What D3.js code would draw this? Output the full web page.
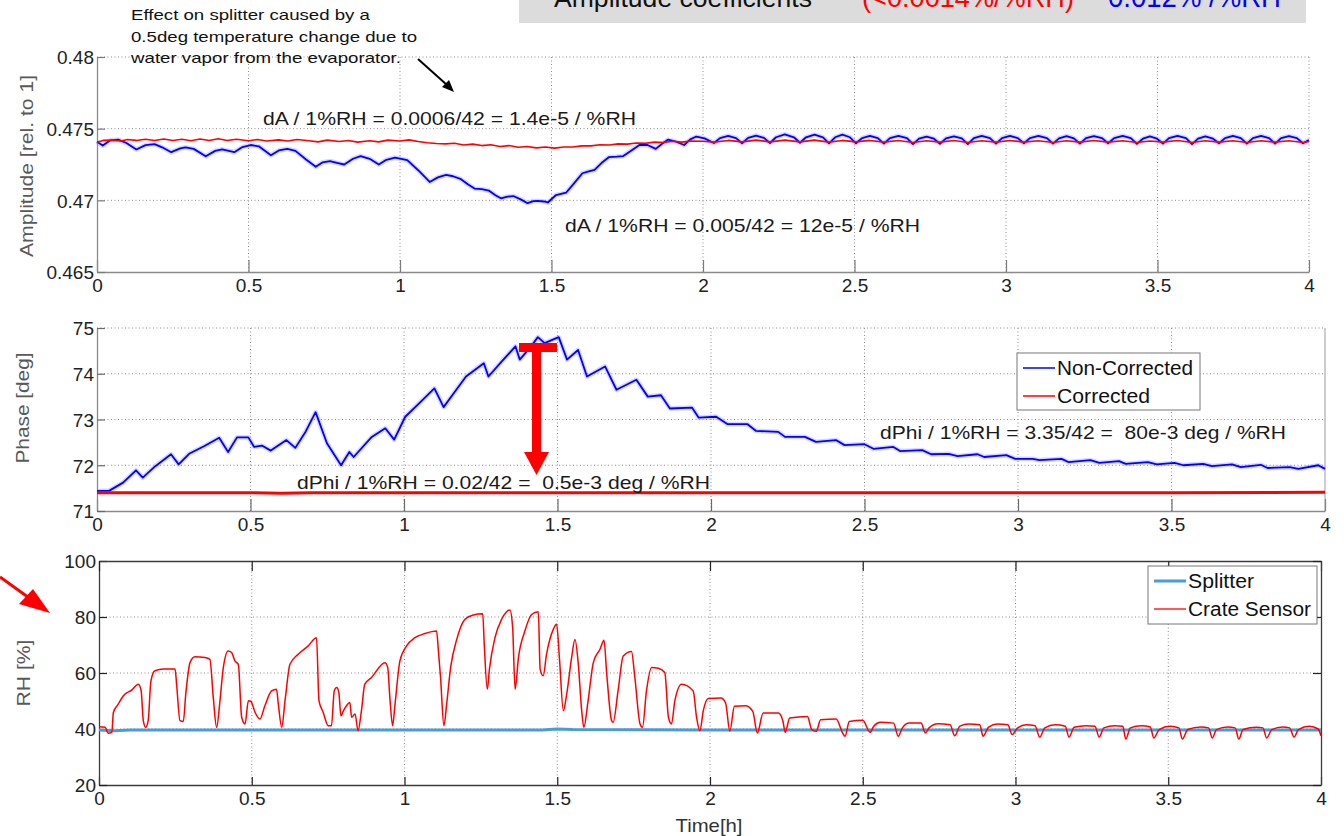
<!DOCTYPE html>
<html>
<head>
<meta charset="utf-8">
<script src="https://cdn.jsdelivr.net/npm/d3@7"></script>
<style>
    body { margin: 0; background: #fff; }
    svg text { font-family: "Liberation Sans", Arial, sans-serif; }
</style>
</head>
<body>
<svg id="chart" width="1344" height="836"></svg>
<script>
// ---- data (time in hours) ----
const timeTicks = [0, 0.5, 1, 1.5, 2, 2.5, 3, 3.5, 4];
const timeTickLabels = ['0', '0.5', '1', '1.5', '2', '2.5', '3', '3.5', '4'];
const ampTicks = [0.465, 0.47, 0.475, 0.48];
const ampTickLabels = ['0.465', '0.47', '0.475', '0.48'];
const phaseTicks = [71, 72, 73, 74, 75];
const phaseTickLabels = ['71', '72', '73', '74', '75'];
const rhTicks = [20, 40, 60, 80, 100];
const rhTickLabels = ['20', '40', '60', '80', '100'];

const ampNonCorrected = [
    [0, 0.47409], [0.019, 0.47382], [0.043, 0.47418], [0.07, 0.47423], [0.097, 0.4740], [0.13, 0.47355],
    [0.16, 0.47385], [0.19, 0.47392], [0.215, 0.4737], [0.245, 0.47336], [0.275, 0.47362], [0.292, 0.4737],
    [0.319, 0.47359], [0.359, 0.47307], [0.39, 0.47345], [0.413, 0.47355], [0.435, 0.47345], [0.453, 0.47336],
    [0.48, 0.47372], [0.507, 0.47386], [0.534, 0.47377], [0.574, 0.47314], [0.6, 0.47348], [0.628, 0.47359],
    [0.655, 0.47345], [0.69, 0.47285], [0.722, 0.47234], [0.745, 0.47265], [0.769, 0.47273], [0.795, 0.4726],
    [0.816, 0.4725], [0.845, 0.4729], [0.87, 0.47309], [0.9, 0.4729], [0.93, 0.4725], [0.955, 0.47283],
    [0.984, 0.47298], [1.024, 0.4728], [1.06, 0.4721], [1.098, 0.47128], [1.125, 0.4716], [1.152, 0.47177],
    [1.175, 0.47168], [1.199, 0.4715], [1.225, 0.4711], [1.246, 0.47082], [1.27, 0.47078], [1.293, 0.47068],
    [1.315, 0.47035], [1.333, 0.47014], [1.355, 0.47026], [1.374, 0.4703], [1.4, 0.47005], [1.421, 0.4698],
    [1.44, 0.46995], [1.454, 0.46996], [1.475, 0.46992], [1.488, 0.46985], [1.515, 0.47037], [1.548, 0.47053],
    [1.575, 0.4712], [1.602, 0.47189], [1.62, 0.472], [1.642, 0.47212], [1.665, 0.4726], [1.69, 0.47302],
    [1.715, 0.47305], [1.737, 0.47309], [1.765, 0.4735], [1.79, 0.47386], [1.817, 0.47386], [1.844, 0.47359],
    [1.865, 0.47395], [1.884, 0.47423], [1.911, 0.47409], [1.938, 0.47386], [1.958, 0.47425], [1.978, 0.47445],
    [2.005, 0.47432], [2.036, 0.474], [2.056, 0.47434], [2.083, 0.4745], [2.109, 0.47434], [2.129, 0.47398],
    [2.149, 0.47436], [2.175, 0.47452], [2.201, 0.47436], [2.221, 0.474], [2.241, 0.4744], [2.27, 0.4746],
    [2.3, 0.4744], [2.32, 0.47402], [2.34, 0.4744], [2.368, 0.47458], [2.396, 0.4744], [2.416, 0.47398],
    [2.436, 0.4744], [2.46, 0.47458], [2.485, 0.4744], [2.505, 0.47398], [2.525, 0.47434], [2.551, 0.4745],
    [2.577, 0.47434], [2.597, 0.47396], [2.617, 0.47434], [2.645, 0.4745], [2.673, 0.47434], [2.693, 0.47392],
    [2.713, 0.4743], [2.738, 0.47445], [2.762, 0.4743], [2.782, 0.47395], [2.802, 0.47432], [2.828, 0.47446],
    [2.854, 0.47432], [2.874, 0.47392], [2.894, 0.47434], [2.92, 0.4745], [2.947, 0.47434], [2.967, 0.47396],
    [2.987, 0.47434], [3.013, 0.4745], [3.039, 0.47434], [3.059, 0.47398], [3.079, 0.47434], [3.107, 0.4745],
    [3.135, 0.47434], [3.155, 0.47396], [3.175, 0.47432], [3.2, 0.47448], [3.224, 0.47432], [3.244, 0.47396],
    [3.264, 0.47434], [3.29, 0.47448], [3.317, 0.47434], [3.337, 0.47398], [3.357, 0.47434], [3.385, 0.4745],
    [3.412, 0.47434], [3.432, 0.47394], [3.452, 0.4743], [3.475, 0.47446], [3.498, 0.4743], [3.518, 0.47396],
    [3.538, 0.47434], [3.566, 0.4745], [3.594, 0.47434], [3.614, 0.47392], [3.634, 0.4743], [3.658, 0.47446],
    [3.683, 0.4743], [3.703, 0.47398], [3.723, 0.47434], [3.749, 0.4745], [3.775, 0.47434], [3.795, 0.47396],
    [3.815, 0.47434], [3.842, 0.4745], [3.868, 0.47434], [3.888, 0.47396], [3.908, 0.47434], [3.934, 0.47448],
    [3.96, 0.47434], [3.98, 0.47398], [4.0, 0.4742]
];

const ampCorrected = [
    [0, 0.47405], [0.02, 0.47418], [0.05, 0.4742], [0.08, 0.47414], [0.1, 0.47424], [0.13, 0.47418],
    [0.16, 0.47426], [0.19, 0.47418], [0.22, 0.47428], [0.25, 0.47418], [0.28, 0.47426], [0.31, 0.47416],
    [0.34, 0.47428], [0.37, 0.47418], [0.4, 0.4743], [0.43, 0.47418], [0.46, 0.47426], [0.5, 0.47416],
    [0.53, 0.47424], [0.56, 0.47414], [0.6, 0.47422], [0.63, 0.47414], [0.66, 0.47424], [0.7, 0.47416],
    [0.73, 0.47408], [0.76, 0.4742], [0.8, 0.4741], [0.83, 0.47418], [0.86, 0.47406], [0.9, 0.47416],
    [0.93, 0.47408], [0.96, 0.4742], [1.0, 0.47414], [1.03, 0.47422], [1.06, 0.4741], [1.09, 0.47402],
    [1.12, 0.47396], [1.15, 0.47394], [1.18, 0.47398], [1.21, 0.47386], [1.24, 0.47392], [1.27, 0.47382],
    [1.3, 0.47388], [1.33, 0.47376], [1.36, 0.47382], [1.39, 0.4737], [1.42, 0.47376], [1.45, 0.47366],
    [1.48, 0.47372], [1.51, 0.47364], [1.54, 0.47372], [1.57, 0.47372], [1.6, 0.4738], [1.63, 0.4738],
    [1.66, 0.47388], [1.69, 0.47386], [1.72, 0.47394], [1.75, 0.47392], [1.78, 0.474], [1.81, 0.47398],
    [1.84, 0.47406], [1.87, 0.47404], [1.9, 0.47412], [1.93, 0.47406], [1.96, 0.47414], [2.0, 0.47412],
    [2.036, 0.47406], [2.083, 0.47418], [2.129, 0.47408], [2.175, 0.4742], [2.221, 0.47408], [2.27, 0.4742],
    [2.32, 0.47408], [2.368, 0.4742], [2.416, 0.47406], [2.46, 0.47418], [2.505, 0.47408], [2.551, 0.47418],
    [2.597, 0.47406], [2.645, 0.47418], [2.693, 0.47404], [2.738, 0.47416], [2.782, 0.47406], [2.828, 0.47418],
    [2.874, 0.47404], [2.92, 0.47416], [2.967, 0.47406], [3.013, 0.47418], [3.059, 0.47406], [3.107, 0.47416],
    [3.155, 0.47404], [3.2, 0.47416], [3.244, 0.47406], [3.29, 0.47418], [3.337, 0.47406], [3.385, 0.47416],
    [3.432, 0.47404], [3.475, 0.47414], [3.518, 0.47406], [3.566, 0.47418], [3.614, 0.47404], [3.658, 0.47416],
    [3.703, 0.47406], [3.749, 0.47416], [3.795, 0.47404], [3.842, 0.47416], [3.888, 0.47406], [3.934, 0.47416],
    [3.98, 0.47404], [4.0, 0.4741]
];

const phaseNonCorrected = [
    [0, 71.44], [0.039, 71.44], [0.085, 71.62], [0.127, 71.89], [0.149, 71.73], [0.19, 71.98], [0.241, 72.24],
    [0.266, 72.02], [0.3, 72.25], [0.35, 72.42], [0.398, 72.6], [0.427, 72.29], [0.456, 72.61], [0.493, 72.61],
    [0.512, 72.4], [0.537, 72.43], [0.566, 72.32], [0.617, 72.55], [0.646, 72.38], [0.68, 72.74], [0.712, 73.16],
    [0.749, 72.48], [0.795, 72.0], [0.822, 72.29], [0.836, 72.18], [0.895, 72.62], [0.939, 72.81], [0.968, 72.56],
    [1.004, 73.06], [1.05, 73.36], [1.099, 73.68], [1.129, 73.27], [1.165, 73.6], [1.202, 73.94], [1.26, 74.23],
    [1.275, 73.94], [1.32, 74.28], [1.363, 74.6], [1.377, 74.31], [1.414, 74.6], [1.436, 74.8], [1.458, 74.67],
    [1.504, 74.8], [1.531, 74.31], [1.567, 74.52], [1.596, 73.94], [1.655, 74.16], [1.692, 73.65], [1.757, 73.87],
    [1.794, 73.5], [1.837, 73.53], [1.866, 73.24], [1.938, 73.26], [1.96, 73.04], [2.017, 73.06], [2.053, 72.9],
    [2.118, 72.9], [2.147, 72.75], [2.219, 72.73], [2.241, 72.62], [2.306, 72.62], [2.342, 72.51], [2.407, 72.55],
    [2.435, 72.44], [2.5, 72.46], [2.529, 72.36], [2.594, 72.4], [2.616, 72.31], [2.688, 72.33], [2.717, 72.24],
    [2.774, 72.25], [2.803, 72.2], [2.868, 72.24], [2.89, 72.18], [2.962, 72.22], [2.991, 72.14], [3.048, 72.14],
    [3.07, 72.11], [3.142, 72.14], [3.164, 72.07], [3.236, 72.11], [3.265, 72.05], [3.329, 72.09], [3.351, 72.03],
    [3.423, 72.07], [3.452, 72.02], [3.51, 72.05], [3.539, 72.0], [3.603, 72.03], [3.632, 71.98], [3.697, 72.02],
    [3.726, 71.96], [3.791, 72.01], [3.813, 71.94], [3.885, 71.96], [3.913, 71.92], [3.978, 72.0], [4.0, 71.92]
];

const phaseCorrected = [
    [0, 71.40], [0.5, 71.40], [0.6, 71.39], [0.7, 71.40], [1.5, 71.40], [2.5, 71.40], [3.5, 71.40], [4.0, 71.41]
];

const rhSplitter = [
    [0, 39.6], [0.05, 39.4], [0.1, 39.6], [1.45, 39.6], [1.5, 40.0], [1.55, 39.8], [2.0, 39.6], [4.0, 39.6]
];

const rhCrateSensor = [
    [0, 40.8], [0.02, 40.6], [0.03, 38.5], [0.042, 38.8], [0.047, 45.9], [0.063, 48.9], [0.08, 51.9], [0.107, 53.9],
    [0.129, 56.0], [0.138, 53.6], [0.145, 43.0], [0.153, 40.6], [0.161, 43.0], [0.17, 57.2], [0.183, 60.8],
    [0.211, 61.4], [0.249, 61.4], [0.254, 56.0], [0.265, 43.0], [0.276, 42.7], [0.284, 52.5], [0.298, 63.7],
    [0.314, 65.8], [0.347, 65.5], [0.363, 64.9], [0.374, 51.3], [0.385, 40.6], [0.396, 50.1], [0.407, 62.0],
    [0.423, 67.9], [0.434, 67.3], [0.445, 64.3], [0.456, 63.1], [0.467, 44.2], [0.478, 41.8], [0.489, 50.1],
    [0.497, 49.9], [0.511, 45.9], [0.527, 43.6], [0.543, 48.3], [0.565, 53.6], [0.581, 54.2], [0.587, 48.9],
    [0.598, 40.6], [0.609, 50.1], [0.625, 63.1], [0.652, 66.7], [0.685, 69.7], [0.712, 72.6], [0.72, 50.1],
    [0.734, 45.9], [0.75, 41.2], [0.761, 41.2], [0.77, 53.6], [0.778, 54.8], [0.785, 53.1], [0.792, 44.7],
    [0.8, 46.5], [0.81, 48.3], [0.821, 49.5], [0.827, 44.2], [0.838, 45.4], [0.848, 39.4], [0.859, 46.5],
    [0.87, 56.0], [0.892, 58.4], [0.936, 63.7], [0.945, 62.0], [0.952, 51.3], [0.961, 41.2], [0.969, 48.9],
    [0.985, 64.3], [1.007, 69.7], [1.034, 72.6], [1.067, 74.1], [1.105, 75.0], [1.111, 67.9], [1.118, 58.4],
    [1.129, 41.2], [1.138, 48.9], [1.151, 62.0], [1.171, 72.0], [1.198, 79.2], [1.225, 80.7], [1.256, 81.2],
    [1.261, 70.3], [1.271, 54.2], [1.278, 61.4], [1.296, 72.6], [1.318, 79.2], [1.345, 82.5], [1.354, 76.2],
    [1.362, 54.2], [1.373, 65.5], [1.394, 75.0], [1.416, 80.9], [1.438, 81.9], [1.444, 61.4], [1.454, 59.0],
    [1.465, 66.7], [1.487, 75.6], [1.498, 77.4], [1.507, 65.5], [1.52, 46.5], [1.531, 52.5], [1.547, 65.5],
    [1.558, 72.0], [1.569, 63.1], [1.58, 46.5], [1.587, 40.6], [1.601, 50.1], [1.618, 63.7], [1.64, 68.5],
    [1.653, 71.7], [1.662, 59.6], [1.678, 43.0], [1.683, 42.4], [1.699, 53.6], [1.716, 66.1], [1.743, 67.7],
    [1.754, 58.4], [1.771, 41.8], [1.779, 40.6], [1.792, 53.6], [1.809, 62.0], [1.831, 61.7], [1.852, 60.2],
    [1.864, 44.2], [1.874, 41.8], [1.885, 50.1], [1.907, 56.0], [1.945, 53.6], [1.956, 44.2], [1.967, 39.4],
    [1.978, 46.5], [1.994, 50.9], [2.036, 51.1], [2.051, 49.3], [2.065, 39.2], [2.08, 48.1], [2.116, 48.3],
    [2.14, 46.3], [2.155, 38.6], [2.174, 45.7], [2.224, 45.7], [2.239, 42.7], [2.246, 38.8], [2.261, 43.9],
    [2.319, 44.5], [2.333, 39.8], [2.348, 39.2], [2.362, 43.3], [2.413, 43.6], [2.434, 38.6], [2.442, 37.4],
    [2.456, 42.7], [2.5, 43.1], [2.524, 38.8], [2.536, 41], [2.558, 42.4], [2.601, 42.1], [2.616, 37.4],
    [2.63, 40.4], [2.652, 42.1], [2.691, 42.1], [2.705, 38.6], [2.717, 40.4], [2.746, 41.9], [2.786, 41.5],
    [2.801, 37.6], [2.818, 41], [2.847, 41.8], [2.883, 41.5], [2.894, 37.4], [2.912, 40.7], [2.941, 41.8],
    [2.975, 41.5], [2.989, 38], [3.007, 40.4], [3.036, 41.5], [3.064, 41.2], [3.079, 37.1], [3.096, 40.4],
    [3.13, 41.5], [3.163, 41], [3.175, 37.1], [3.192, 40.6], [3.231, 41.2], [3.26, 41], [3.274, 37.1],
    [3.289, 40.4], [3.325, 41.2], [3.351, 41], [3.361, 36.4], [3.376, 40.4], [3.412, 41.2], [3.441, 40.7],
    [3.453, 36.8], [3.47, 39.8], [3.506, 41], [3.535, 40.4], [3.546, 36.4], [3.564, 39.8], [3.607, 40.7],
    [3.632, 40.4], [3.644, 36.8], [3.658, 39.8], [3.694, 40.7], [3.719, 40.4], [3.731, 36.4], [3.745, 39.8],
    [3.789, 40.6], [3.81, 40.4], [3.822, 36.8], [3.839, 39.8], [3.875, 40.7], [3.897, 40.4], [3.912, 37.1],
    [3.926, 39.8], [3.962, 41], [3.991, 40], [4.0, 37.6]
];

const svg = d3.select('#chart');
const BLUE = '#0000ff', RED = '#ff0000', SPLIT = '#4b9bd6';

// text helper: fixes the drawn width so it lines up with the picture
function label(g, x, y, txt, size, fill, len, anchor) {
    let t = g.append('text')
        .attr('x', x).attr('y', y)
        .attr('font-size', size)
        .attr('fill', fill)
        .attr('text-anchor', anchor || 'start')
        .text(txt);
    if (len) t.attr('textLength', len).attr('lengthAdjust', 'spacingAndGlyphs');
    return t;
}

function makePanel(p) {
    let x = d3.scaleLinear().domain([0, 4]).range([p.left, p.right]);
    let y = d3.scaleLinear().domain(p.yDomain).range([p.bottom, p.top]);
    let g = svg.append('g');

    // dotted grid
    g.append('g').selectAll('line').data(timeTicks.filter(d => d > 0 && (p.gridRight || d < 4))).join('line')
        .attr('x1', d => x(d)).attr('x2', d => x(d))
        .attr('y1', p.top).attr('y2', p.bottom)
        .attr('stroke', '#8c8c8c').attr('stroke-width', 1).attr('stroke-dasharray', '1,2.5');
    g.append('g').selectAll('line').data(p.yTicks.filter((d, i) => i > 0 && (p.gridTop || i < p.yTicks.length - 1))).join('line')
        .attr('x1', p.left).attr('x2', p.right)
        .attr('y1', d => y(d)).attr('y2', d => y(d))
        .attr('stroke', '#8c8c8c').attr('stroke-width', 1).attr('stroke-dasharray', '1,2.5');

    // axes
    let xAxis = d3.axisBottom(x).tickValues(timeTicks).tickFormat((d, i) => timeTickLabels[i])
        .tickSize(-p.xTickLen).tickPadding(7).tickSizeOuter(0);
    let gx = g.append('g').attr('transform', `translate(0,${p.bottom})`).call(xAxis);
    let yAxis = d3.axisLeft(y).tickValues(p.yTicks).tickFormat((d, i) => p.yLabels[i])
        .tickSize(-8).tickPadding(3).tickSizeOuter(0);
    let gy = g.append('g').attr('transform', `translate(${p.left},0)`).call(yAxis);
    [gx, gy].forEach(a => {
        a.select('.domain').attr('stroke', p.axisColor).attr('stroke-width', 1.3);
        a.selectAll('.tick line').attr('stroke', p.tickColor).attr('stroke-width', 1.2);
        a.selectAll('.tick text').attr('font-size', 19).attr('fill', '#222')
            .attr('font-family', '"Liberation Sans", Arial, sans-serif');
    });
    gy.selectAll('.tick text').attr('dy', '0.36em');

    if (p.box) {
        let top = d3.axisTop(x).tickValues(timeTicks).tickFormat('').tickSize(-10).tickSizeOuter(0);
        let gt = g.append('g').attr('transform', `translate(0,${p.top})`).call(top);
        let right = d3.axisRight(y).tickValues(p.yTicks).tickFormat('').tickSize(-8).tickSizeOuter(0);
        let gr = g.append('g').attr('transform', `translate(${p.right},0)`).call(right);
        [gt, gr].forEach(a => {
            a.select('.domain').attr('stroke', p.axisColor).attr('stroke-width', 1.3);
            a.selectAll('.tick line').attr('stroke', p.tickColor).attr('stroke-width', 1.2);
        });
    } else if (p.solidRight) {
        g.append('line').attr('x1', p.right).attr('x2', p.right).attr('y1', p.top).attr('y2', p.bottom)
            .attr('stroke', '#9a9a9a').attr('stroke-width', 1);
    }

    // series
    p.series.forEach(s => {
        let line = d3.line().x(d => x(d[0])).y(d => y(d[1])).curve(s.curve || d3.curveLinear);
        if (s.halo) {
            g.append('path').attr('d', line(s.data)).attr('fill', 'none')
                .attr('stroke', s.halo).attr('stroke-width', s.width + 3).attr('stroke-opacity', 0.35)
                .attr('stroke-linejoin', 'round');
        }
        g.append('path').attr('d', line(s.data)).attr('fill', 'none')
            .attr('stroke', s.color).attr('stroke-width', s.width).attr('stroke-linejoin', 'round');
    });

    // y title
    label(g, 0, 0, p.title, 18, '#595959', p.titleLen, 'middle')
        .attr('transform', `translate(${p.titleX},${p.titleY}) rotate(-90)`)
        .attr('dy', '0.36em');
    return { g, x, y };
}

// ---- panel 1: amplitude ----
let p1 = makePanel({
    left: 97, right: 1309, top: 57, bottom: 272,
    yDomain: [0.465, 0.48], yTicks: ampTicks, yLabels: ampTickLabels,
    xTickLen: 12, axisColor: '#8a8a8a', tickColor: '#7a7a7a',
    gridTop: true, gridRight: true,
    title: 'Amplitude [rel. to 1]', titleLen: 182, titleX: 27, titleY: 166,
    series: [
        { data: ampNonCorrected, color: BLUE, width: 1.8, halo: '#8f8fff' },
        { data: ampCorrected, color: RED, width: 1.6 }
    ]
});

// ---- panel 2: phase ----
let p2 = makePanel({
    left: 97, right: 1325, top: 328, bottom: 511,
    yDomain: [71, 75], yTicks: phaseTicks, yLabels: phaseTickLabels,
    xTickLen: 12, axisColor: '#8a8a8a', tickColor: '#6a6a6a',
    gridTop: true, gridRight: false, solidRight: true,
    title: 'Phase [deg]', titleLen: 111, titleX: 23, titleY: 408,
    series: [
        { data: phaseNonCorrected, color: BLUE, width: 1.8, halo: '#8f8fff' },
        { data: phaseCorrected, color: RED, width: 3 }
    ]
});

// ---- panel 3: relative humidity ----
let p3 = makePanel({
    left: 99, right: 1321, top: 561, bottom: 785,
    yDomain: [20, 100], yTicks: rhTicks, yLabels: rhTickLabels,
    xTickLen: 8, axisColor: '#3c3c3c', tickColor: '#222',
    gridTop: false, gridRight: false, box: true,
    title: 'RH [%]', titleLen: 67, titleX: 24, titleY: 673,
    series: [
        { data: rhSplitter, color: SPLIT, width: 3 },
        { data: rhCrateSensor, color: RED, width: 1.5, curve: d3.curveMonotoneX }
    ]
});
label(svg, 709, 832, 'Time[h]', 19, '#333', 67, 'middle');

// ---- legends ----
function legend(x0, y0, w, h, items) {
    let g = svg.append('g');
    g.append('rect').attr('x', x0).attr('y', y0).attr('width', w).attr('height', h)
        .attr('fill', '#fff').attr('stroke', '#777').attr('stroke-width', 1);
    g.selectAll('line').data(items).join('line')
        .attr('x1', x0 + 6).attr('x2', x0 + 38)
        .attr('y1', (d, i) => y0 + 15 + i * 28).attr('y2', (d, i) => y0 + 15 + i * 28)
        .attr('stroke', d => d.color).attr('stroke-width', d => d.width);
    items.forEach((d, i) => {
        label(g, x0 + 40, y0 + 15 + i * 28, d.name, 20, '#111', d.len).attr('dy', '0.36em');
    });
}
legend(1017, 353, 183, 57, [
    { name: 'Non-Corrected', color: BLUE, width: 1.5, len: 136 },
    { name: 'Corrected', color: RED, width: 1.5, len: 93 }
]);
legend(1148, 566, 169, 58, [
    { name: 'Splitter', color: SPLIT, width: 3, len: 66 },
    { name: 'Crate Sensor', color: RED, width: 1.3, len: 123 }
]);

// ---- annotations ----
let note = svg.append('g');
label(note, 263, 125, 'dA / 1%RH = 0.0006/42 = 1.4e-5 / %RH', 19, '#1a1a1a', 373);
label(note, 565, 232, 'dA / 1%RH = 0.005/42 = 12e-5 / %RH', 19, '#1a1a1a', 355);
label(note, 880, 439, 'dPhi / 1%RH = 3.35/42 =\u00a0 80e-3 deg / %RH', 19, '#1a1a1a', 406);
label(note, 297, 489, 'dPhi / 1%RH = 0.02/42 =\u00a0 0.5e-3 deg / %RH', 19, '#1a1a1a', 413);
label(note, 131, 20, 'Effect on splitter caused by a', 15, '#111', 239);
label(note, 131, 42, '0.5deg temperature change due to', 15, '#111', 286);
label(note, 131, 63, 'water vapor from the evaporator.', 15, '#111', 270);

// black arrow
note.append('line').attr('x1', 418).attr('y1', 59).attr('x2', 447).attr('y2', 85)
    .attr('stroke', '#000').attr('stroke-width', 2);
note.append('polygon').attr('points', '454,92 442,87 449,80').attr('fill', '#000');

// red T arrow in the phase panel
note.append('rect').attr('x', 519).attr('y', 343).attr('width', 38).attr('height', 9).attr('fill', RED);
note.append('rect').attr('x', 532).attr('y', 350).attr('width', 9).attr('height', 104).attr('fill', RED);
note.append('polygon').attr('points', '524,452 549,452 536.5,475').attr('fill', RED);

// red arrow pointing at the RH panel
note.append('line').attr('x1', 0).attr('y1', 577).attr('x2', 32).attr('y2', 600)
    .attr('stroke', RED).attr('stroke-width', 3);
note.append('polygon').attr('points', '50,613 19,604 33,589').attr('fill', RED);

// grey box at the top (its text is cut by the page edge, as in the picture)
let head = svg.append('g');
head.append('rect').attr('x', 519).attr('y', -2).attr('width', 787).attr('height', 25).attr('fill', '#dcdcdc');
label(head, 554, 7, 'Amplitude coefficients', 25, '#111', 258);
label(head, 862, 7, '(<0.0014%/%RH)', 27, RED, 212);
label(head, 1108, 7, '0.012% /%RH', 29, BLUE, 173);
</script>
</body>
</html>
